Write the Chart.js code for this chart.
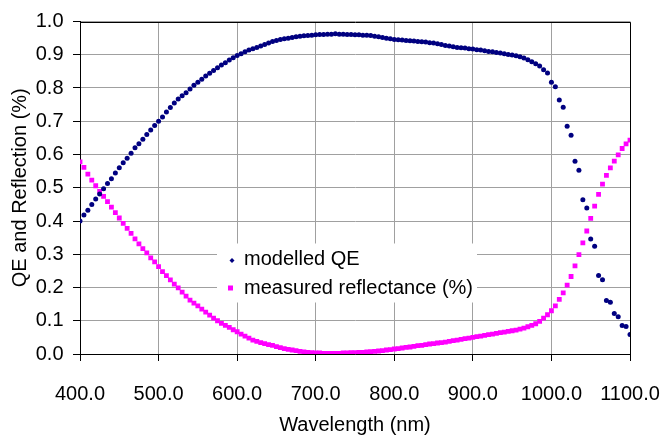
<!DOCTYPE html>
<html>
<head>
<meta charset="utf-8">
<script src="https://cdn.jsdelivr.net/npm/chart.js@4"></script>
<style>
  html, body { margin: 0; padding: 0; background: #fff; }
  #wrap { width: 663px; height: 441px; position: relative; }
</style>
</head>
<body>
<div id="wrap"><canvas id="c" width="663" height="441"></canvas></div>
<script>
const wavelengths = [
  400,405,410,415,420,425,430,435,440,445,
  450,455,460,465,470,475,480,485,490,495,
  500,505,510,515,520,525,530,535,540,545,
  550,555,560,565,570,575,580,585,590,595,
  600,605,610,615,620,625,630,635,640,645,
  650,655,660,665,670,675,680,685,690,695,
  700,705,710,715,720,725,730,735,740,745,
  750,755,760,765,770,775,780,785,790,795,
  800,805,810,815,820,825,830,835,840,845,
  850,855,860,865,870,875,880,885,890,895,
  900,905,910,915,920,925,930,935,940,945,
  950,955,960,965,970,975,980,985,990,995,
  1000,1005,1010,1015,1020,1025,1030,1035,1040,1045,
  1050,1055,1060,1065,1070,1075,1080,1085,1090,1095,
  1100
];
const modelledQE = [
  0.400,0.418,0.432,0.450,0.466,0.481,0.497,0.513,0.527,0.544,
  0.560,0.575,0.589,0.604,0.620,0.632,0.646,0.660,0.674,0.687,
  0.700,0.713,0.728,0.741,0.755,0.767,0.777,0.786,0.797,0.808,
  0.817,0.826,0.836,0.844,0.853,0.861,0.869,0.876,0.884,0.891,
  0.898,0.903,0.909,0.914,0.918,0.922,0.926,0.931,0.935,0.940,
  0.943,0.946,0.948,0.950,0.952,0.954,0.956,0.957,0.958,0.959,
  0.960,0.961,0.961,0.962,0.962,0.963,0.962,0.962,0.961,0.961,
  0.960,0.960,0.959,0.959,0.958,0.956,0.954,0.952,0.950,0.948,
  0.946,0.945,0.944,0.943,0.942,0.941,0.940,0.939,0.938,0.936,
  0.935,0.933,0.931,0.928,0.926,0.924,0.922,0.921,0.920,0.918,
  0.917,0.915,0.914,0.912,0.910,0.909,0.907,0.905,0.903,0.901,
  0.899,0.897,0.894,0.890,0.885,0.879,0.873,0.866,0.855,0.845,
  0.817,0.804,0.764,0.742,0.685,0.658,0.580,0.553,0.464,0.439,
  0.346,0.324,0.236,0.223,0.161,0.156,0.122,0.112,0.086,0.083,
  0.059
];
const measuredReflectance = [
  0.578,0.561,0.541,0.523,0.506,0.489,0.474,0.458,0.442,0.425,
  0.409,0.393,0.378,0.363,0.346,0.331,0.317,0.304,0.289,0.277,
  0.263,0.248,0.236,0.223,0.210,0.199,0.186,0.174,0.162,0.153,
  0.145,0.135,0.126,0.117,0.108,0.100,0.092,0.086,0.080,0.073,
  0.067,0.060,0.054,0.048,0.042,0.038,0.034,0.031,0.028,0.026,
  0.022,0.019,0.016,0.014,0.012,0.010,0.008,0.006,0.005,0.004,
  0.003,0.003,0.002,0.002,0.002,0.002,0.002,0.003,0.003,0.004,
  0.004,0.005,0.005,0.006,0.007,0.008,0.009,0.010,0.012,0.013,
  0.015,0.016,0.018,0.020,0.021,0.023,0.025,0.026,0.028,0.030,
  0.031,0.033,0.034,0.036,0.038,0.040,0.042,0.044,0.046,0.048,
  0.050,0.052,0.054,0.056,0.058,0.060,0.062,0.064,0.066,0.068,
  0.070,0.072,0.075,0.078,0.082,0.086,0.091,0.098,0.108,0.118,
  0.130,0.145,0.164,0.184,0.207,0.233,0.265,0.299,0.334,0.370,
  0.408,0.445,0.480,0.511,0.537,0.560,0.580,0.599,0.618,0.632,
  0.643
];
const seriesNames = ['modelled QE', 'measured reflectance (%)'];
const xTitle = 'Wavelength (nm)';
const yTitle = 'QE and Reflection (%)';

const FONT = 'Liberation Sans, Arial, Helvetica, sans-serif';
const QE_COLOR = '#000080';
const REFL_COLOR = '#FF00FF';

const toXY = (vals) => wavelengths.map((w, i) => ({ x: w, y: vals[i] }));

const frameAndLegend = {
  id: 'frameAndLegend',
  beforeDatasetsDraw(chart) {
    const { ctx, chartArea: a } = chart;
    ctx.save();
    ctx.strokeStyle = '#000';
    ctx.lineWidth = 1;
    ctx.beginPath();
    ctx.moveTo(Math.round(a.left) + 0.5, Math.round(a.top) + 0.5);
    ctx.lineTo(Math.round(a.right) + 0.5, Math.round(a.top) + 0.5);
    ctx.lineTo(Math.round(a.right) + 0.5, Math.round(a.bottom) + 0.5);
    ctx.stroke();
    ctx.restore();
  },
  afterDraw(chart) {
    const { ctx, chartArea: a } = chart;
    const bx = a.left + 137, by = a.top + 222;
    ctx.save();
    ctx.fillStyle = '#fff';
    ctx.fillRect(bx, by, 260, 59);
    ctx.fillStyle = QE_COLOR;
    const m1x = bx + 15, m1y = by + 17;
    ctx.beginPath();
    ctx.moveTo(m1x, m1y - 2.5);
    ctx.lineTo(m1x + 2.5, m1y);
    ctx.lineTo(m1x, m1y + 2.5);
    ctx.lineTo(m1x - 2.5, m1y);
    ctx.closePath();
    ctx.fill();
    ctx.fillStyle = REFL_COLOR;
    ctx.fillRect(bx + 11, by + 42, 5, 5);
    ctx.fillStyle = '#000';
    ctx.font = '20px ' + FONT;
    ctx.textBaseline = 'middle';
    ctx.textAlign = 'left';
    ctx.fillText(seriesNames[0], bx + 27, by + 16);
    ctx.fillText(seriesNames[1], bx + 27, by + 45);
    ctx.restore();
  }
};

new Chart(document.getElementById('c'), {
  type: 'scatter',
  data: {
    datasets: [
      {
        label: seriesNames[0],
        data: toXY(modelledQE),
        pointStyle: 'circle',
        pointRadius: 2.5,
        pointBorderWidth: 0,
        backgroundColor: QE_COLOR,
        borderColor: QE_COLOR,
        showLine: false
      },
      {
        label: seriesNames[1],
        data: toXY(measuredReflectance),
        pointStyle: 'rect',
        pointRadius: 3.4,
        pointBorderWidth: 0,
        backgroundColor: REFL_COLOR,
        borderColor: REFL_COLOR,
        showLine: false
      }
    ]
  },
  options: {
    responsive: false,
    animation: false,
    devicePixelRatio: 1,
    layout: { padding: { top: 15, right: 33, left: 0, bottom: 0 } },
    plugins: {
      legend: { display: false },
      tooltip: { enabled: false }
    },
    scales: {
      x: {
        type: 'linear',
        min: 400, max: 1100,
        afterFit(s) { s.height = 87; s.paddingLeft = 0; s.paddingRight = 0; },
        ticks: {
          stepSize: 100,
          color: '#000',
          padding: 21,
          maxRotation: 0,
          font: { family: FONT, size: 20 },
          callback: (v) => Number(v).toFixed(1)
        },
        grid: { color: '#a0a0a0', lineWidth: 1, tickLength: 7, tickColor: '#000' },
        border: { display: true, color: '#000', width: 1 },
        title: {
          display: true, text: xTitle, color: '#000',
          font: { family: FONT, size: 20 },
          padding: { top: 0, bottom: 4 }
        }
      },
      y: {
        min: 0, max: 1,
        afterFit(s) { s.width = 80; },
        ticks: {
          stepSize: 0.1,
          color: '#000',
          padding: 9.5,
          font: { family: FONT, size: 20 },
          callback: (v) => Number(v).toFixed(1)
        },
        grid: { color: '#a0a0a0', lineWidth: 1, tickLength: 7, tickColor: '#000' },
        border: { display: true, color: '#000', width: 1 },
        title: {
          display: true, text: yTitle, color: '#000',
          font: { family: FONT, size: 20 },
          padding: { top: 8, bottom: 0 }
        }
      }
    }
  },
  plugins: [frameAndLegend]
});
</script>
</body>
</html>
